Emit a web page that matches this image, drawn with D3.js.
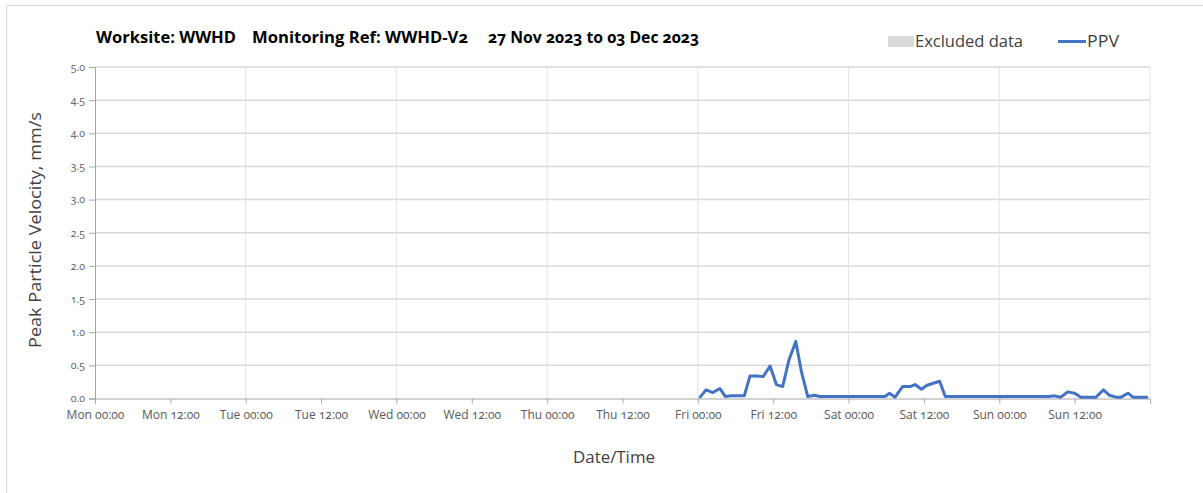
<!DOCTYPE html>
<html><head><meta charset="utf-8">
<script src="https://cdn.jsdelivr.net/npm/d3@7"></script>
<style>
html,body{margin:0;padding:0;background:#fff;}
svg text{font-family:"Open Sans","Lato",sans-serif;font-variant-numeric:oldstyle-nums;font-feature-settings:"onum" 1;}
</style></head>
<body><svg id="chart" width="1203" height="493"></svg>
<script>
// ---- Data ----
const titleParts = ["Worksite: WWHD", "Monitoring Ref: WWHD-V2", "27 Nov 2023 to 03 Dec 2023"];
const seriesName = "PPV";
const excludedName = "Excluded data";
const yTitle = "Peak Particle Velocity, mm/s";
const xTitle = "Date/Time";
const startDate = "2023-11-27T00:00:00";
const endDate = "2023-12-04T00:00:00";
const dataStart = "2023-12-01T00:00:00";
const yTicks = [0, 0.5, 1, 1.5, 2, 2.5, 3, 3.5, 4, 4.5, 5];
const xTickLabels = ["Mon 00:00","Mon 12:00","Tue 00:00","Tue 12:00","Wed 00:00","Wed 12:00","Thu 00:00","Thu 12:00","Fri 00:00","Fri 12:00","Sat 00:00","Sat 12:00","Sun 00:00","Sun 12:00"];
// hours after Fri 00:00
const hoursAfterStart = [0.26,1.3,2.4,3.5,4.4,5.3,6.4,7.4,8.3,9.35,10.4,11.5,12.5,13.5,14.5,15.6,16.5,17.5,18.6,19.4,21,23,25,27,29,29.8,30.5,31.4,32.6,33.8,34.6,35.6,36.5,37.5,38.5,39.4,41,43,45,47,49,51,53,55,55.9,56.8,57.8,58.9,60,61,62.2,63.4,64.6,65.5,66.6,67.4,68.5,69.3,70.5,71.7];
const ppvValues = [0.01,0.13,0.09,0.15,0.03,0.04,0.04,0.04,0.34,0.34,0.33,0.49,0.21,0.18,0.58,0.86,0.40,0.03,0.05,0.03,0.03,0.03,0.03,0.03,0.03,0.03,0.08,0.02,0.18,0.18,0.21,0.14,0.20,0.23,0.26,0.03,0.03,0.03,0.03,0.03,0.03,0.03,0.03,0.03,0.03,0.04,0.02,0.10,0.08,0.02,0.02,0.02,0.13,0.05,0.02,0.02,0.08,0.02,0.02,0.02];

// ---- Chart ----
const svg = d3.select("#chart");
const W = 1203, H = 493;
const x0 = 95, x1 = 1150, yTop = 67, yBot = 398.5;
const t0 = new Date(startDate), t1 = new Date(endDate), tData = new Date(dataStart);
const x = d3.scaleTime().domain([t0, t1]).range([x0, x1]);
const y = d3.scaleLinear().domain([0, 5]).range([yBot, yTop]);
const data = hoursAfterStart.map((h, i) => ({t: new Date(tData.getTime() + h * 3600000), v: ppvValues[i]}));

// outer border
svg.append("rect").attr("x", 6.5).attr("y", 5.5).attr("width", W).attr("height", H)
  .attr("fill", "none").attr("stroke", "#d9d9d9");

// horizontal gridlines
svg.append("g").selectAll("line").data(yTicks.filter(d => d > 0)).join("line")
  .attr("x1", x0).attr("x2", x1).attr("y1", d => y(d)).attr("y2", d => y(d))
  .attr("stroke", "#d9d9d9").attr("stroke-width", 1.5);

// vertical day gridlines
const dayTicks = d3.timeDay.range(t0, d3.timeDay.offset(t1, 1)).filter(d => d > t0);
svg.append("g").selectAll("line").data(dayTicks).join("line")
  .attr("x1", d => x(d)).attr("x2", d => x(d)).attr("y1", yTop).attr("y2", yBot)
  .attr("stroke", "#e3e3e3").attr("stroke-width", 1);

// y axis
const yAxis = d3.axisLeft(y).tickValues(yTicks).tickFormat(d3.format(".1f")).tickSize(6).tickPadding(4);
const gy = svg.append("g").attr("transform", `translate(${x0},0)`).call(yAxis);
gy.select(".domain").attr("stroke", "#a6a6a6");
gy.selectAll(".tick line").attr("stroke", "#a6a6a6");
gy.selectAll(".tick text").attr("fill", "#595959").style("font-size", "10.5px");

// x axis
const xTicksAll = d3.timeHour.every(12).range(t0, d3.timeHour.offset(t1, 1));
const xAxis = d3.axisBottom(x).tickValues(xTicksAll).tickSize(5).tickPadding(7)
  .tickFormat((d, i) => xTickLabels[i] || "");
const gx = svg.append("g").attr("transform", `translate(0,${yBot})`).call(xAxis);
gx.select(".domain").attr("stroke", "#a6a6a6");
gx.selectAll(".tick line").attr("stroke", "#a6a6a6");
gx.selectAll(".tick text").attr("fill", "#595959").style("font-size", "12px");

// data line
svg.append("path").datum(data)
  .attr("fill", "none").attr("stroke", "#4472c4").attr("stroke-width", 3)
  .attr("stroke-linejoin", "round")
  .attr("d", d3.line().x(d => x(d.t)).y(d => y(d.v)));

// titles
const titleX = [96, 252, 488];
const titleW = [140, 216, 211];
titleParts.forEach((s, i) => {
  svg.append("text").attr("x", titleX[i]).attr("y", 43).text(s)
    .attr("textLength", titleW[i]).attr("lengthAdjust", "spacingAndGlyphs")
    .attr("fill", "#000").style("font-size", "16px").style("font-weight", "bold");
});

// legend
svg.append("rect").attr("x", 888).attr("y", 36).attr("width", 26).attr("height", 11).attr("fill", "#d9d9d9");
svg.append("text").attr("x", 915).attr("y", 47).text(excludedName)
  .attr("textLength", 108).attr("lengthAdjust", "spacingAndGlyphs")
  .attr("fill", "#404040").style("font-size", "16px");
svg.append("line").attr("x1", 1058).attr("x2", 1086).attr("y1", 41.5).attr("y2", 41.5)
  .attr("stroke", "#4472c4").attr("stroke-width", 3);
svg.append("text").attr("x", 1087).attr("y", 47).text(seriesName)
  .attr("textLength", 32).attr("lengthAdjust", "spacingAndGlyphs")
  .attr("fill", "#404040").style("font-size", "16px");

// axis titles
svg.append("text").attr("transform", "translate(41,230) rotate(-90)").attr("text-anchor", "middle")
  .text(yTitle).attr("textLength", 236).attr("lengthAdjust", "spacingAndGlyphs")
  .attr("fill", "#404040").style("font-size", "16px");
svg.append("text").attr("x", 614).attr("y", 463).attr("text-anchor", "middle")
  .text(xTitle).attr("textLength", 82).attr("lengthAdjust", "spacingAndGlyphs")
  .attr("fill", "#404040").style("font-size", "16px");
</script>
</body></html>
